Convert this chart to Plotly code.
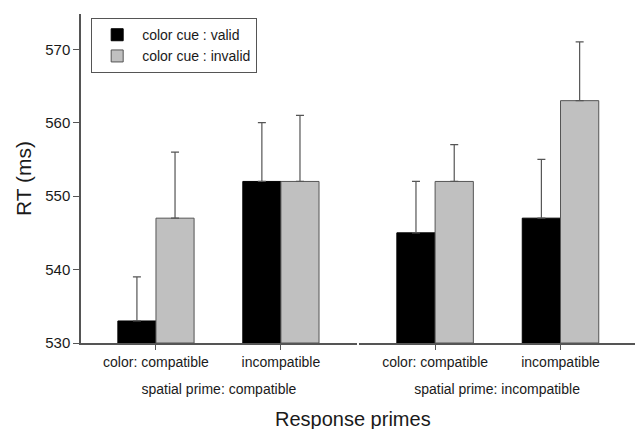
import plotly.graph_objects as go

categories = ["color: compatible", "incompatible"]
panel_titles = ["spatial prime: compatible", "spatial prime: incompatible"]
series_names = ["color cue : valid", "color cue : invalid"]

# mean RT per panel (spatial prime) and category (color prime)
valid_left = [533, 552]
invalid_left = [547, 552]
valid_right = [545, 547]
invalid_right = [552, 563]

# upper end of error bars
valid_left_err = [539, 560]
invalid_left_err = [556, 561]
valid_right_err = [552, 555]
invalid_right_err = [557, 571]

y_ticks = [530, 540, 550, 560, 570]

FONT = "Liberation Sans, Arial, sans-serif"
AX = "#555555"
GRAY = "#c0c0c0"
TXT = "#1a1a1a"

fig = go.Figure()

def add(vals, tops, name, color, line, xa, show):
    fig.add_trace(go.Bar(
        x=categories, y=[v - 530 for v in vals], base=530, name=name,
        marker=dict(color=color, line=dict(color=line, width=1)),
        error_y=dict(type="data", symmetric=False,
                     array=[t - v for t, v in zip(tops, vals)],
                     arrayminus=[0] * len(vals),
                     color=AX, thickness=1.2, width=4),
        xaxis=xa, yaxis="y", showlegend=show, legendgroup=name,
    ))

add(valid_left, valid_left_err, series_names[0], "black", "black", "x", True)
add(invalid_left, invalid_left_err, series_names[1], GRAY, AX, "x", True)
add(valid_right, valid_right_err, series_names[0], "black", "black", "x2", False)
add(invalid_right, invalid_right_err, series_names[1], GRAY, AX, "x2", False)

xcommon = dict(type="category", showline=True, linecolor=AX, linewidth=1.5,
               ticks="outside", tickcolor=AX, ticklen=5, tickwidth=1.2,
               tickfont=dict(family=FONT, size=14, color=TXT),
               showgrid=False, zeroline=False, fixedrange=True, automargin=False)

fig.update_layout(
    width=635, height=429,
    margin=dict(l=81, r=0, t=14, b=86),
    paper_bgcolor="white", plot_bgcolor="white",
    barmode="group", bargap=0.39, bargroupgap=0,
    font=dict(family=FONT, color=TXT),
    xaxis=dict(domain=[0, 0.498], range=[-0.6, 1.608],
               title=dict(text=panel_titles[0], font=dict(size=14, family=FONT, color=TXT), standoff=16),
               **xcommon),
    xaxis2=dict(domain=[0.502, 1], range=[-0.606, 1.594], anchor="y",
                title=dict(text=panel_titles[1], font=dict(size=14, family=FONT, color=TXT), standoff=16),
                **xcommon),
    yaxis=dict(range=[530, 574.8], tickvals=y_ticks, showline=True, linecolor=AX,
               linewidth=1.5, ticks="outside", tickcolor=AX, ticklen=6, tickwidth=1.2,
               tickfont=dict(family=FONT, size=15, color=TXT),
               showgrid=False, zeroline=False, automargin=False,
               title=dict(text="RT (ms)", font=dict(family=FONT, size=21, color=TXT), standoff=8)),
    legend=dict(x=0.018, y=0.988, xanchor="left", yanchor="top",
                bordercolor=AX, borderwidth=1.2, bgcolor="white",
                font=dict(family=FONT, size=14, color=TXT),
                tracegroupgap=0, itemwidth=40),
    annotations=[dict(text="Response primes", xref="paper", yref="paper",
                      x=0.491, y=-0.19, xanchor="center", yanchor="top",
                      showarrow=False, font=dict(family=FONT, size=20, color=TXT))],
)

fig.write_html("out.html",
               config={"displayModeBar": False},
               post_script="document.body.style.margin='0';document.body.style.overflow='hidden';")
